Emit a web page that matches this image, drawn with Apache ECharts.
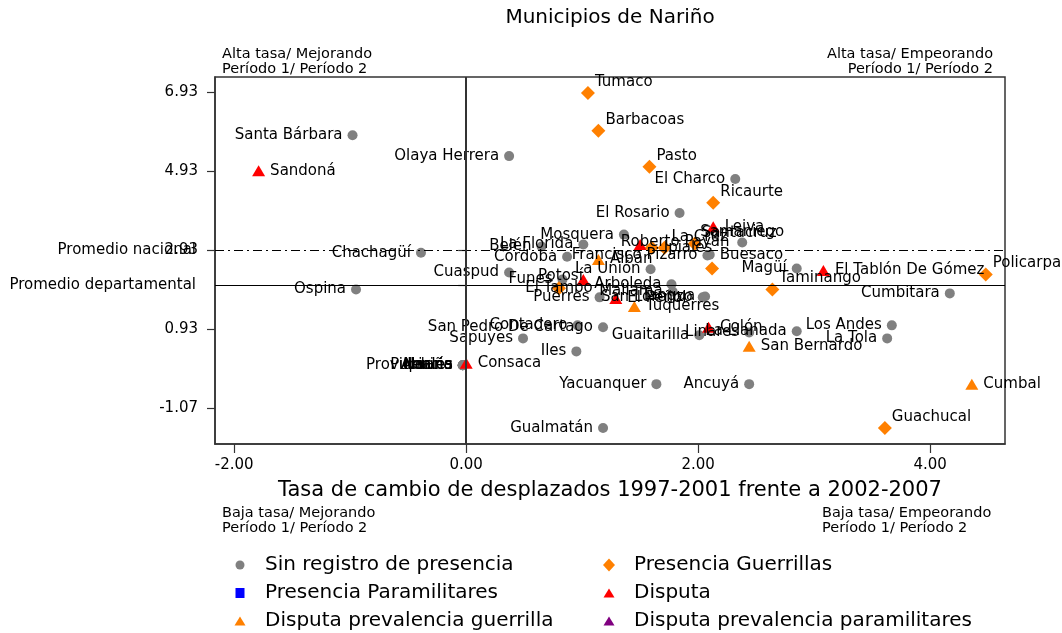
<!DOCTYPE html>
<html>
<head>
<meta charset="utf-8">
<title>Municipios de Nariño</title>
<script src="https://cdn.jsdelivr.net/npm/echarts@6/dist/echarts.min.js"></script>
<style>
  html, body { margin: 0; padding: 0; background: #fff; }
  #chart { width: 1062px; height: 633px; }
</style>
</head>
<body>
<div id="chart"></div>
<script>
// 刻度
var yTicks = [-1.07, 0.93, 2.93, 4.93, 6.93];
var xTicks = [-2, 0, 2, 4];
// 参考线
var promNacional = 2.93;
var promDepartamental = 2.04;

// Sin registro de presencia
var sinNames = ['Santa Bárbara', 'Olaya Herrera', 'Chachagüí', 'Ospina', 'El Charco', 'El Rosario', 'Mosquera',
  'La Florida', 'Belén', 'Córdoba', 'Francisco Pizarro', 'Buesaco', 'Samaniego', 'Cuaspud', 'La Unión', 'Funes',
  'Arboleda', 'Mallama', 'Puerres', 'Tangua', 'San Lorenzo', 'Magüí', 'Cumbitara', 'Contadero',
  'San Pedro De Cartago', 'Sapuyes', 'Iles', 'Guaitarilla', 'Linares', 'La Llanada', 'Los Andes', 'La Tola',
  'Yacuanquer', 'Ancuyá', 'Gualmatán', 'Providencia', 'Pupiales', 'Aldana', 'Nariño', 'Imués'];
var sinX = [-0.98, 0.37, -0.39, -0.95, 2.32, 1.84, 1.36, 1.01, 0.65, 0.87, 2.08, 2.10, 2.38, 0.37, 1.59, 0.83,
  1.77, 1.78, 1.15, 2.06, 2.04, 2.85, 4.17, 0.96, 1.18, 0.49, 0.95, 2.01, 2.44, 2.85, 3.67, 3.63,
  1.64, 2.44, 1.18, -0.03, -0.03, -0.03, -0.03, -0.03];
var sinY = [5.85, 5.32, 2.87, 1.94, 4.74, 3.88, 3.33, 3.08, 3.03, 2.77, 2.80, 2.82, 3.13, 2.37, 2.45, 2.19,
  2.07, 1.89, 1.74, 1.76, 1.74, 2.47, 1.84, 1.03, 0.98, 0.70, 0.37, 0.78, 0.85, 0.88, 1.03, 0.70,
  -0.46, -0.46, -1.57, 0.02, 0.02, 0.02, 0.02, 0.02];

// Presencia Guerrillas
var guerNames = ['Tumaco', 'Barbacoas', 'Pasto', 'Ricaurte', 'Ipiales', 'La Cruz', 'Santacruz', 'San Pablo',
  'El Tambo', 'Taminango', 'Policarpa', 'Guachucal'];
var guerX = [1.05, 1.14, 1.58, 2.13, 1.60, 1.71, 1.97, 2.12, 0.80, 2.64, 4.48, 3.61];
var guerY = [6.92, 5.96, 5.05, 4.14, 3.00, 3.00, 3.10, 2.47, 1.97, 1.94, 2.32, -1.57];

// Disputa
var dispNames = ['Sandoná', 'Leiva', 'Roberto Payán', 'Potosí', 'El Peñol', 'Colón', 'El Tablón De Gómez', 'Consaca'];
var dispX = [-1.79, 2.13, 1.50, 1.01, 1.29, 2.09, 3.08, 0.00];
var dispY = [4.95, 3.53, 3.08, 2.19, 1.71, 0.98, 2.42, 0.07];

// Disputa prevalencia guerrilla
var dpgNames = ['Albán', 'Túquerres', 'San Bernardo', 'Cumbal'];
var dpgX = [1.14, 1.45, 2.44, 4.36];
var dpgY = [2.70, 1.51, 0.50, -0.46];

// 标签位置 (默认在左边)
var labelRight = ['Buesaco', 'Ipiales', 'Sandoná', 'Leiva', 'El Peñol', 'Colón',
  'El Tablón De Gómez', 'Consaca', 'Albán', 'Túquerres', 'San Bernardo', 'Cumbal'];
var labelTopRight = ['Tumaco', 'Barbacoas', 'Pasto', 'Ricaurte', 'La Cruz', 'Santacruz', 'Taminango', 'Policarpa', 'Guachucal'];
var labelTop = ['Samaniego'];
var labelCenter = ['El Tambo'];
var labelHidden = ['San Pablo'];

var FONT = 'DejaVu Sans';

function labelFor(name) {
  if (labelHidden.indexOf(name) >= 0) return { show: false };
  if (name === 'Roberto Payán') return { position: 'inside', offset: [35, -2] };
  if (name === 'Potosí') return { position: 'left', distance: -6, offset: [0, -3] };
  if (labelRight.indexOf(name) >= 0) return { position: 'right', distance: 5 };
  if (labelTopRight.indexOf(name) >= 0) return { position: 'right', distance: 0, offset: [0, -11] };
  if (labelTop.indexOf(name) >= 0) return { position: 'top', distance: -2 };
  if (labelCenter.indexOf(name) >= 0) return { position: 'inside' };
  return { position: 'left', distance: 5 };
}

function build(names, xs, ys) {
  return names.map(function (n, i) {
    return { name: n, value: [xs[i], ys[i]], label: labelFor(n) };
  });
}

var baseLabel = {
  show: true,
  formatter: '{b}',
  color: '#000',
  fontFamily: FONT,
  fontSize: 15
};

// 图例: 每一项单独放, 位置和参考图一样
function legendItem(name, cx, top, w, h) {
  return {
    data: [name], left: cx - w / 2, top: top, padding: 0,
    itemWidth: w, itemHeight: h,
    textStyle: { fontFamily: FONT, fontSize: 20, color: '#000', lineHeight: 20, padding: [0, 0, 0, 20 - w / 2] }
  };
}

var chart = echarts.init(document.getElementById('chart'), null, { renderer: 'canvas' });

var option = {
  animation: false,
  backgroundColor: '#fff',
  grid: {
    left: 215, right: 57, top: 77, bottom: 189,
    show: true, borderColor: '#333', borderWidth: 1.5
  },
  xAxis: {
    type: 'value',
    min: -2.166, max: 4.646,
    name: 'Tasa de cambio de desplazados 1997-2001 frente a 2002-2007',
    nameLocation: 'middle',
    nameGap: 36,
    nameTextStyle: { fontFamily: FONT, fontSize: 21, color: '#000' },
    axisLine: { show: true, onZero: false, lineStyle: { color: '#333', width: 1.5 } },
    axisTick: { show: true, length: 9, customValues: xTicks, lineStyle: { color: '#333', width: 1.2 } },
    axisLabel: {
      customValues: xTicks, margin: 14,
      fontFamily: FONT, fontSize: 15, color: '#000',
      formatter: function (v) { return Number(v).toFixed(2); }
    },
    splitLine: { show: false }
  },
  yAxis: [{
    type: 'value',
    min: -1.977, max: 7.325,
    axisLine: { show: true, onZero: false, lineStyle: { color: '#333', width: 1.5 } },
    axisTick: { show: true, length: 8, customValues: yTicks, lineStyle: { color: '#333', width: 1.2 } },
    axisLabel: {
      customValues: yTicks, margin: 17,
      fontFamily: FONT, fontSize: 15, color: '#000',
      formatter: function (v) { return Number(v).toFixed(2); }
    },
    splitLine: { show: false }
  }, {
    // 只用来放参考线的名字
    type: 'value',
    position: 'left',
    min: -1.977, max: 7.325,
    axisLine: { show: false },
    axisTick: { show: true, length: 8, customValues: [promNacional, promDepartamental], lineStyle: { color: '#333', width: 1.2 } },
    axisLabel: {
      customValues: [promNacional, promDepartamental], margin: 19,
      fontFamily: FONT, fontSize: 15, color: '#000',
      formatter: function (v) {
        return Math.abs(v - promNacional) < 0.001 ? 'Promedio nacional' : 'Promedio departamental';
      }
    },
    splitLine: { show: false }
  }],
  legend: [
    legendItem('Sin registro de presencia', 240, 555, 9, 9),
    legendItem('Presencia Paramilitares', 240, 583, 9, 10),
    legendItem('Disputa prevalencia guerrilla', 240, 611, 11, 9),
    legendItem('Presencia Guerrillas', 609, 555, 12, 13),
    legendItem('Disputa', 609, 583, 11, 9),
    legendItem('Disputa prevalencia paramilitares', 609, 611, 11, 9)
  ],
  graphic: [
    { type: 'text', style: { text: 'Municipios de Nariño', x: 610, y: 18, align: 'center', verticalAlign: 'middle', textAlign: 'center', textVerticalAlign: 'middle', font: '20px "DejaVu Sans"', fill: '#000' } },
    { type: 'text', style: { text: 'Alta tasa/ Mejorando\nPeríodo 1/ Período 2', x: 222, y: 47, align: 'left', textAlign: 'left', verticalAlign: 'top', textVerticalAlign: 'top', lineHeight: 15, font: '14.5px "DejaVu Sans"', fill: '#000' } },
    { type: 'text', style: { text: 'Alta tasa/ Empeorando\nPeríodo 1/ Período 2', x: 993, y: 47, align: 'right', textAlign: 'right', verticalAlign: 'top', textVerticalAlign: 'top', lineHeight: 15, font: '14.5px "DejaVu Sans"', fill: '#000' } },
    { type: 'text', style: { text: 'Baja tasa/ Mejorando\nPeríodo 1/ Período 2', x: 222, y: 506, align: 'left', textAlign: 'left', verticalAlign: 'top', textVerticalAlign: 'top', lineHeight: 15, font: '14.5px "DejaVu Sans"', fill: '#000' } },
    { type: 'text', style: { text: 'Baja tasa/ Empeorando\nPeríodo 1/ Período 2', x: 822, y: 506, align: 'left', textAlign: 'left', verticalAlign: 'top', textVerticalAlign: 'top', lineHeight: 15, font: '14.5px "DejaVu Sans"', fill: '#000' } }
  ],
  series: [
    {
      // 参考线
      name: 'lineas', type: 'scatter', z: 1, data: [], silent: true,
      markLine: {
        silent: true, symbol: ['none', 'none'], label: { show: false }, animation: false,
        data: [
          { yAxis: promDepartamental, lineStyle: { type: 'solid', color: '#000', width: 1 } },
          { yAxis: promNacional, lineStyle: { type: [9, 4, 2, 4], color: '#000', width: 1 } },
          { xAxis: 0, lineStyle: { type: 'solid', color: '#333', width: 2 } }
        ]
      }
    },
    {
      name: 'Sin registro de presencia', type: 'scatter', symbol: 'circle', symbolSize: 10,
      itemStyle: { color: '#808080', opacity: 1 }, label: baseLabel,
      data: build(sinNames, sinX, sinY)
    },
    {
      name: 'Presencia Guerrillas', type: 'scatter', symbol: 'diamond', symbolSize: 14,
      itemStyle: { color: '#ff8000', opacity: 1 }, label: baseLabel,
      data: build(guerNames, guerX, guerY)
    },
    {
      name: 'Presencia Paramilitares', type: 'scatter', symbol: 'rect', symbolSize: 10,
      itemStyle: { color: '#0000ff', opacity: 1 }, label: baseLabel,
      data: []
    },
    {
      name: 'Disputa', type: 'scatter', symbol: 'triangle', symbolSize: [13, 11],
      itemStyle: { color: '#ff0000', opacity: 1 }, label: baseLabel,
      data: build(dispNames, dispX, dispY)
    },
    {
      name: 'Disputa prevalencia guerrilla', type: 'scatter', symbol: 'triangle', symbolSize: [13, 11],
      itemStyle: { color: '#ff8000', opacity: 1 }, label: baseLabel,
      data: build(dpgNames, dpgX, dpgY)
    },
    {
      name: 'Disputa prevalencia paramilitares', type: 'scatter', symbol: 'triangle', symbolSize: [13, 11],
      itemStyle: { color: '#800080', opacity: 1 }, label: baseLabel,
      data: []
    }
  ]
};

chart.setOption(option);
</script>
</body>
</html>
